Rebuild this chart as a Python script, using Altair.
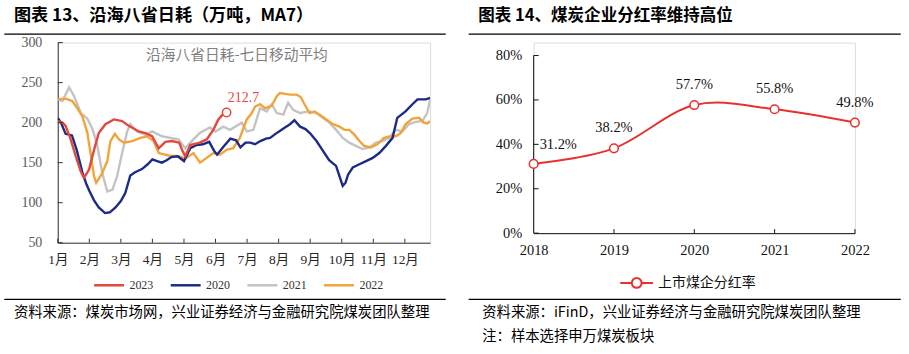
import altair as alt
import pandas as pd

# ---------------- data: left panel (沿海八省日耗, MA7) ----------------
months = ["1月", "2月", "3月", "4月", "5月", "6月", "7月", "8月", "9月", "10月", "11月", "12月"]
month_ticks = list(range(12))
y_ticks_left = [50, 100, 150, 200, 250, 300]

s2023 = [[0, 202], [0.15, 200], [0.25, 196], [0.41, 179], [0.57, 158], [0.73, 139], [0.83, 131],
         [0.99, 141], [1.15, 166], [1.3, 187], [1.51, 198], [1.78, 204], [2.04, 202], [2.25, 196],
         [2.57, 189], [2.78, 187], [2.99, 183], [3.2, 168], [3.41, 176], [3.62, 177], [3.85, 175],
         [3.95, 165], [4.04, 158], [4.2, 172], [4.5, 175], [4.72, 179], [4.93, 191], [5.09, 204],
         [5.25, 211], [5.35, 212.7]]

s2020 = [[0, 206], [0.1, 200], [0.25, 186], [0.45, 184], [0.6, 166], [0.78, 138], [0.9, 124],
         [1.0, 115], [1.15, 103], [1.3, 94], [1.5, 87], [1.65, 88], [1.83, 94], [2.0, 102],
         [2.14, 112], [2.3, 134], [2.45, 138], [2.67, 142], [2.85, 148], [3.0, 154], [3.15, 152],
         [3.3, 150], [3.45, 153], [3.6, 157], [3.8, 158], [4.0, 152], [4.2, 168], [4.4, 172],
         [4.6, 173], [4.8, 176], [4.95, 165], [5.05, 160], [5.25, 170], [5.47, 180], [5.65, 178],
         [5.79, 169], [5.95, 175], [6.1, 175], [6.25, 173], [6.42, 177], [6.6, 180], [6.73, 181],
         [6.9, 186], [7.05, 190], [7.2, 194], [7.36, 198], [7.5, 203], [7.68, 195], [7.85, 192],
         [7.99, 187], [8.2, 177], [8.4, 165], [8.6, 153], [8.82, 146], [8.93, 133], [9.03, 121],
         [9.12, 125], [9.2, 135], [9.35, 144], [9.56, 148], [9.77, 152], [9.98, 156], [10.19, 162],
         [10.4, 171], [10.61, 181], [10.76, 206], [11.02, 214], [11.24, 223], [11.4, 229],
         [11.66, 229], [11.8, 231]]

s2021 = [[0, 229], [0.15, 227], [0.36, 244], [0.52, 233], [0.73, 212], [0.94, 205], [1.1, 192],
         [1.25, 172], [1.41, 137], [1.57, 114], [1.73, 116], [1.88, 133], [2.04, 162], [2.2, 189],
         [2.3, 198], [2.51, 189], [2.78, 185], [2.99, 189], [3.3, 183], [3.57, 181], [3.83, 179],
         [4.04, 168], [4.2, 175], [4.5, 187], [4.82, 194], [5.0, 189], [5.25, 195], [5.46, 191],
         [5.62, 195], [5.83, 200], [5.99, 189], [6.2, 191], [6.41, 218], [6.62, 214], [6.78, 223],
         [6.94, 212], [7.15, 210], [7.3, 225], [7.46, 216], [7.67, 212], [7.98, 214], [8.19, 212],
         [8.4, 206], [8.61, 200], [8.82, 191], [9.03, 181], [9.24, 175], [9.45, 171], [9.66, 167],
         [9.87, 169], [10.08, 175], [10.29, 177], [10.5, 181], [10.71, 191], [10.92, 189],
         [11.13, 198], [11.34, 201], [11.55, 202], [11.71, 212], [11.8, 229]]

s2022 = [[0, 229], [0.25, 230], [0.46, 227], [0.62, 218], [0.78, 208], [0.94, 187], [1.04, 162],
         [1.15, 133], [1.22, 125], [1.41, 137], [1.57, 152], [1.67, 177], [1.81, 186], [1.94, 179],
         [2.1, 175], [2.36, 177], [2.62, 181], [2.83, 183], [3.04, 177], [3.2, 162], [3.51, 159],
         [3.83, 158], [4.04, 155], [4.3, 162], [4.51, 150], [4.72, 156], [4.93, 162], [5.14, 160],
         [5.35, 166], [5.56, 168], [5.77, 181], [5.99, 204], [6.15, 212], [6.25, 220], [6.41, 223],
         [6.57, 218], [6.78, 221], [6.94, 233], [7.04, 237], [7.36, 235], [7.57, 235], [7.7, 232],
         [7.82, 223], [7.98, 212], [8.14, 214], [8.3, 210], [8.51, 204], [8.72, 198], [8.93, 195],
         [9.09, 191], [9.24, 191], [9.4, 185], [9.56, 177], [9.71, 171], [9.92, 169], [10.13, 173],
         [10.34, 181], [10.55, 183], [10.71, 183], [10.87, 187], [11.02, 198], [11.24, 205],
         [11.45, 206], [11.6, 200], [11.71, 199], [11.8, 202]]

series_names = ["2023", "2020", "2021", "2022"]
series_colors = ["#e2483d", "#1c2b84", "#c3c3c3", "#f1a43a"]
draw_order = ["2021", "2022", "2020", "2023"]

# ---------------- data: right panel (分红率) ----------------
years = [2018, 2019, 2020, 2021, 2022]
payout = [31.2, 38.2, 57.7, 55.8, 49.8]
payout_name = "上市煤企分红率"
y_ticks_right = [0, 20, 40, 60, 80]

# ---------------- texts ----------------
title_left = "图表 13、沿海八省日耗（万吨，MA7）"
title_right = "图表 14、煤炭企业分红率维持高位"
note_left = "沿海八省日耗-七日移动平均"
source_left = "资料来源：煤炭市场网，兴业证券经济与金融研究院煤炭团队整理"
source_right = "资料来源：iFinD，兴业证券经济与金融研究院煤炭团队整理"
note_right = "注：样本选择申万煤炭板块"

SERIF = "Liberation Serif, Noto Sans CJK SC"
CJK = "Noto Sans CJK SC"

rows = []
for name, pts in zip(series_names, [s2023, s2020, s2021, s2022]):
    for m, v in pts:
        rows.append({"series": name, "m": m, "v": v})
df_left = pd.DataFrame(rows)
df_right = pd.DataFrame({"year": years, "rate": [p / 100 for p in payout],
                         "label": [f"{p:.1f}%" for p in payout], "name": payout_name})

one = alt.Data(values=[{}])


def deco_text(txt, x, y, size, color="#000", weight="normal", font=CJK, align="left"):
    return alt.Chart(one).mark_text(text=txt, align=align, baseline="middle", fontSize=size,
                                    font=font, fontWeight=weight, color=color).encode(
        x=alt.value(x), y=alt.value(y))


def deco_rule(x1, x2, y, width=1.3):
    return alt.Chart(one).mark_rule(color="#000", strokeWidth=width).encode(
        x=alt.value(x1), x2=alt.value(x2), y=alt.value(y))


def bounds(x1, x2, y1, y2):
    return alt.Chart(one).mark_rect(opacity=0).encode(
        x=alt.value(x1), x2=alt.value(x2), y=alt.value(y1), y2=alt.value(y2))


TOP = 41.3  # page y of both plot tops

# ---------------- left panel ----------------
WL, HL = 374, 201
label_expr = "[" + ",".join(f"'{m}'" for m in months) + "][round(datum.value)]"
xL = alt.X("m:Q", scale=alt.Scale(domain=[0, 11.8], nice=False, zero=False),
           axis=alt.Axis(values=month_ticks, labelExpr=label_expr, title=None, grid=False,
                         tickSize=0, labelPadding=10, labelFont=SERIF, labelFontSize=13.5,
                         labelColor="#262626", domainColor="#333", labelFlush=False,
                         labelOverlap=False, labelBound=False))
yL = alt.Y("v:Q", scale=alt.Scale(domain=[50, 300], nice=False, zero=False),
           axis=alt.Axis(values=y_ticks_left, title=None, grid=False, tickSize=0, labelPadding=16,
                         labelFont=SERIF, labelFontSize=14, labelColor="#595959",
                         domainColor="#333"))
colorL = alt.Color("series:N", scale=alt.Scale(domain=series_names, range=series_colors),
                   legend=alt.Legend(orient="none", legendX=35, legendY=227, direction="horizontal",
                                     columns=4, title=None, symbolType="stroke", symbolSize=900,
                                     symbolStrokeWidth=2.5, labelFont=SERIF, labelFontSize=12,
                                     labelColor="#333", columnPadding=12, labelOffset=4))

lines = []
for s in draw_order:
    lines.append(alt.Chart(df_left).transform_filter(alt.datum.series == s)
                 .mark_line(strokeWidth=2.4, clip=True)
                 .encode(x=xL, y=yL, color=colorL, order=alt.Order("m:Q")))

last2023 = df_left[df_left.series == "2023"].tail(1)
end_pt = alt.Chart(last2023).mark_point(filled=True, fill="white", stroke="#e2483d",
                                        strokeWidth=1.5, size=70, opacity=1).encode(x=xL, y=yL)
end_lbl = alt.Chart(last2023).mark_text(align="center", baseline="middle", dx=17, dy=-15,
                                        fontSize=14, font=SERIF, color="#e2483d").encode(
    x=xL, y=yL, text=alt.Text("v:Q", format=".1f"))

ticks_x_left = alt.Chart(pd.DataFrame({"m": month_ticks})).mark_rule(color="#333").encode(
    x=xL, y=alt.value(HL), y2=alt.value(HL - 4))
ticks_y_left = alt.Chart(pd.DataFrame({"v": y_ticks_left})).mark_rule(color="#333").encode(
    y=yL, x=alt.value(0), x2=alt.value(5))

left = alt.layer(
    bounds(-57, 398, -TOP, 354 - TOP),
    *lines, end_pt, end_lbl, ticks_x_left, ticks_y_left,
    deco_text(note_left, 180, 13.7, 14.8, color="#7f7f7f", align="center"),
    deco_text(title_left, -44, 15 - TOP, 17.2, weight="bold"),
    deco_rule(-53.7, 389.7, 32.7 - TOP),
    deco_rule(-53.7, 389.7, 299.3 - TOP),
    deco_text(source_left, -44, 313.3 - TOP, 14.4),
).properties(width=WL, height=HL)

# ---------------- right panel ----------------
# plot area runs from page y 41.3 to 232.7; 80% sits at page y 54.3
WR, HR = 322.7, 191.4
R_TOP = 0.8 * HR / (232.7 - 54.3)
xR = alt.X("year:Q", scale=alt.Scale(domain=[2018, 2022], nice=False, zero=False),
           axis=alt.Axis(values=years, format="d", title=None, grid=False, tickSize=0,
                         labelPadding=10, labelFont=SERIF, labelFontSize=14.5, labelColor="#111",
                         domainColor="#111", labelFlush=False, labelOverlap=False))
yR = alt.Y("rate:Q", scale=alt.Scale(domain=[0, R_TOP], nice=False),
           axis=alt.Axis(values=[t / 100 for t in y_ticks_right], format=".0%", title=None,
                         grid=False, tickSize=0, labelPadding=12, labelFont=SERIF,
                         labelFontSize=14.5, labelColor="#111", domain=False))
RED = "#e8312f"
colorR = alt.Color("name:N", scale=alt.Scale(domain=[payout_name], range=[RED]),
                   legend=alt.Legend(orient="none", legendX=86, legendY=281.7 - TOP - 16.5,
                                     title=None,
                                     symbolType="M-1,0L-0.33,0M0.33,0L1,0M0.3,0A0.3,0.3,0,1,1,-0.3,0A0.3,0.3,0,1,1,0.3,0Z",
                                     symbolSize=1089, symbolStrokeWidth=2, symbolFillColor="white",
                                     labelFont=CJK, labelFontSize=14, labelColor="#111",
                                     labelOffset=4))

yaxis_line = alt.Chart(pd.DataFrame({"rate": [0.0], "b": [y_ticks_right[-1] / 100]})).mark_rule(
    color="#111").encode(y=yR, y2="b:Q", x=alt.value(0))
line_r = alt.Chart(df_right).mark_line(strokeWidth=2, interpolate="cardinal").encode(
    x=xR, y=yR, color=colorR)
pts_r = alt.Chart(df_right).mark_point(filled=True, fill="white", stroke=RED, strokeWidth=1.5,
                                       size=75, opacity=1).encode(x=xR, y=yR)
lbl_first = alt.Chart(df_right).transform_filter(alt.datum.year == years[0]).mark_text(
    align="left", baseline="middle", dx=6, dy=-19, fontSize=14.5, font=SERIF, color="#111").encode(
    x=xR, y=yR, text="label:N")
lbl_rest = alt.Chart(df_right).transform_filter(alt.datum.year != years[0]).mark_text(
    align="center", baseline="middle", dy=-20, fontSize=14.5, font=SERIF, color="#111").encode(
    x=xR, y=yR, text="label:N")
ticks_x_right = alt.Chart(pd.DataFrame({"year": years[1:]})).mark_rule(color="#111").encode(
    x=xR, y=alt.value(HR), y2=alt.value(HR - 4))
ticks_y_right = alt.Chart(pd.DataFrame({"rate": [t / 100 for t in y_ticks_right]})).mark_rule(
    color="#111").encode(y=yR, x=alt.value(0), x2=alt.value(5))

right = alt.layer(
    bounds(-78.3, 375.7, -TOP, 354 - TOP),
    line_r, yaxis_line, pts_r, lbl_first, lbl_rest, ticks_x_right, ticks_y_right,
    deco_text(title_right, -55.6, 15 - TOP, 16.6, weight="bold"),
    deco_rule(-65.3, 368.7, 32.7 - TOP),
    deco_rule(-65.3, 368.7, 299.3 - TOP),
    deco_text(source_right, -51.6, 313.3 - TOP, 14.4),
    deco_text(note_right, -51.6, 336.7 - TOP, 14.4),
).properties(width=WR, height=HR)

chart = alt.hconcat(left, right, spacing=0).resolve_scale(
    color="independent").resolve_legend(color="independent").properties(
    padding=0).configure_view(stroke=None).configure(background="white")

chart.save("out.html", embed_options={"renderer": "svg", "actions": False})
